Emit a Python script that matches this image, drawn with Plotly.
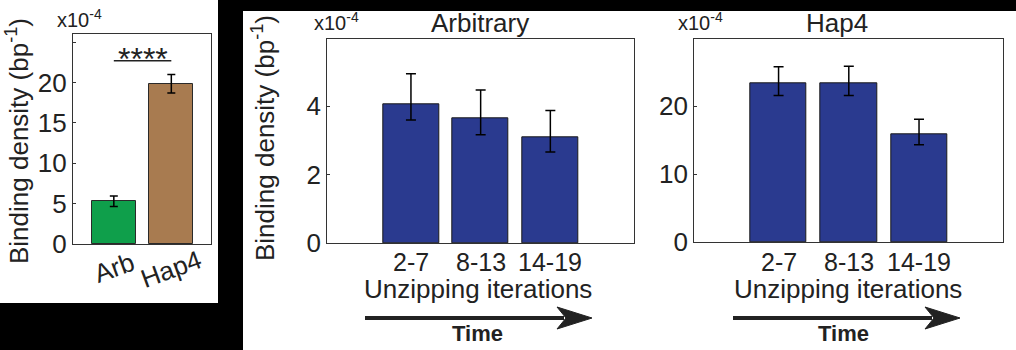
import plotly.graph_objects as go

W, H = 1016, 350

# ---------------- data ----------------
left_cats = ["Arb", "Hap4"]
left_vals = [5.3, 19.85]
left_err = [0.65, 1.15]
left_colors = ["#0f9f4b", "#a87b50"]

iter_labels = ["2-7", "8-13", "14-19"]
arb_vals = [4.07, 3.65, 3.09]
arb_err_plus = [0.88, 0.83, 0.79]
arb_err_minus = [0.47, 0.48, 0.43]

hap_vals = [23.4, 23.4, 15.9]
hap_err_plus = [2.4, 2.5, 2.2]
hap_err_minus = [1.8, 1.8, 1.55]

bar_blue = "#2a3a8f"
FONT = "Arial, Liberation Sans, sans-serif"
AX = "#333333"
FS = 26


def px(x):
    return x / W


def py(y):
    return 1 - y / H


fig = go.Figure()

# left: Arb vs Hap4
fig.add_trace(go.Bar(
    x=[1, 2], y=left_vals, width=0.77,
    marker=dict(color=left_colors, line=dict(color="#2a2a2a", width=1)),
    error_y=dict(type="data", array=left_err, color="black", thickness=1.5, width=4),
    xaxis="x", yaxis="y", showlegend=False))

# Arbitrary
fig.add_trace(go.Bar(
    x=[1, 2, 3], y=arb_vals, width=0.8,
    marker=dict(color=bar_blue, line=dict(color="#1a1a1a", width=1)),
    error_y=dict(type="data", symmetric=False, array=arb_err_plus, arrayminus=arb_err_minus,
                 color="black", thickness=1.5, width=5),
    xaxis="x2", yaxis="y2", showlegend=False))

# Hap4
fig.add_trace(go.Bar(
    x=[1, 2, 3], y=hap_vals, width=0.8,
    marker=dict(color=bar_blue, line=dict(color="#1a1a1a", width=1)),
    error_y=dict(type="data", symmetric=False, array=hap_err_plus, arrayminus=hap_err_minus,
                 color="black", thickness=1.5, width=5),
    xaxis="x3", yaxis="y3", showlegend=False))

ax_base = dict(showline=True, mirror=True, linecolor=AX, linewidth=1.3, showgrid=False,
               zeroline=False, automargin=False,
               tickfont=dict(family=FONT, size=FS, color="#222"))
yax = dict(ax_base, ticks="inside", ticklen=3, tickcolor=AX)
xax = dict(ax_base, ticks="", showticklabels=False)

fig.update_layout(
    width=W, height=H,
    margin=dict(l=0, r=0, t=0, b=0, pad=0, autoexpand=False),
    paper_bgcolor="black", plot_bgcolor="white",
    font=dict(family=FONT, color="#222"),
    bargap=0,
    xaxis=dict(xax, domain=[px(73), px(211)], range=[0.29, 2.69], anchor="y"),
    yaxis=dict(yax, domain=[py(244), py(34)], range=[0, 26], tickvals=[0, 5, 10, 15, 20, 25],
               ticktext=["0", "5", "10", "15", "20", ""], anchor="x"),
    xaxis2=dict(xax, domain=[px(327.3), px(634)], range=[-0.2, 4.2], anchor="y2"),
    yaxis2=dict(yax, domain=[py(243), py(39.3)], range=[0, 5.96], tickvals=[0, 2, 4],
                anchor="x2"),
    xaxis3=dict(xax, domain=[px(694.3), px(1003.3)], range=[-0.2, 4.2], anchor="y3"),
    yaxis3=dict(yax, domain=[py(242.3), py(39.3)], range=[0, 29.85], tickvals=[0, 10, 20],
                anchor="x3"),
)

# white panel backgrounds
shapes = [
    dict(type="rect", xref="paper", yref="paper", x0=px(0), x1=px(218), y0=py(303), y1=py(0),
         fillcolor="white", line=dict(width=0), layer="below"),
    dict(type="rect", xref="paper", yref="paper", x0=px(243), x1=px(1016), y0=py(350), y1=py(11),
         fillcolor="white", line=dict(width=0), layer="below"),
    # significance line
    dict(type="line", xref="x", yref="y", x0=1, x1=2, y0=22.7, y1=22.7,
         line=dict(color="#222", width=1.5)),
]

# time arrows
for x0, x1 in [(365, 592), (733, 960)]:
    shapes.append(dict(type="line", xref="paper", yref="paper", x0=px(x0), x1=px(x1 - 28),
                       y0=py(318), y1=py(318), line=dict(color="#222", width=4)))
    path = (f"M {px(x1-35)},{py(307)} L {px(x1)},{py(318)} L {px(x1-35)},{py(329)} "
            f"L {px(x1-26)},{py(318)} Z")
    shapes.append(dict(type="path", xref="paper", yref="paper", path=path,
                       fillcolor="#222", line=dict(color="#222", width=1)))
fig.update_layout(shapes=shapes)

ann = []


def text(x, y, s, size, **kw):
    d = dict(x=px(x), y=py(y), xref="paper", yref="paper", text=s, showarrow=False,
             font=dict(family=FONT, size=size, color="#222"), xanchor="center", yanchor="middle",
             borderpad=0)
    d.update(kw)
    ann.append(d)


# y titles
text(18, 141, "Binding density (bp<sup>-1</sup>)", FS, textangle=-90)
text(263, 138, "Binding density (bp<sup>-1</sup>)", FS, textangle=-90)
# exponents
text(79, 19, "x10<sup>-4</sup>", 20)
text(336, 21, "x10<sup>-4</sup>", 20)
text(700, 21, "x10<sup>-4</sup>", 20)
# titles
text(480, 23, "Arbitrary", FS)
text(837, 23, "Hap4", FS)
# x titles
text(478, 289, "Unzipping iterations", FS)
text(848, 289, "Unzipping iterations", FS)
text(477, 333, "<b>Time</b>", 22)
text(843, 333, "<b>Time</b>", 22)

# category tick labels of the iteration panels
for xr in ["x2", "x3"]:
    for i, lab in enumerate(iter_labels):
        ann.append(dict(x=i + 1, xref=xr, y=py(262), yref="paper", text=lab, showarrow=False,
                        font=dict(family=FONT, size=25, color="#222"), borderpad=0,
                        xanchor="center", yanchor="middle"))

# left category labels (rotated)
for i, c in enumerate(left_cats):
    ann.append(dict(x=i + 1, xref="x", y=py(268 + 1 * i), yref="paper", text=c, showarrow=False,
                    textangle=-20, font=dict(family=FONT, size=FS, color="#222"), borderpad=0,
                    xanchor="center", yanchor="middle"))
# significance stars
ann.append(dict(x=1.5, xref="x", y=22.7, yref="y", text="****", showarrow=False,
                font=dict(family=FONT, size=32, color="#222"), xanchor="center", borderpad=0,
                yanchor="middle", yshift=2))

fig.update_layout(annotations=ann)

fig.write_html("out.html")
